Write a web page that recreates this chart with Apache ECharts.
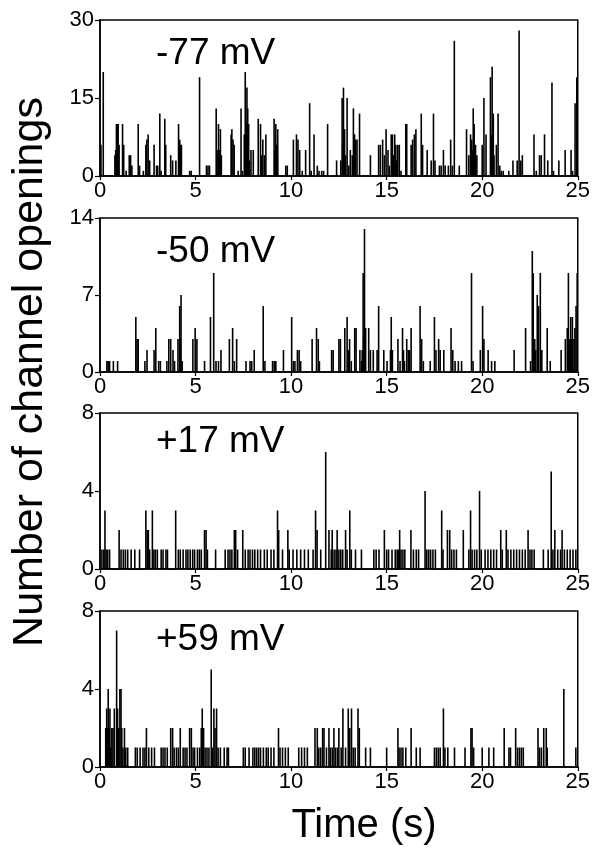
<!DOCTYPE html>
<html><head><meta charset="utf-8">
<script src="https://cdn.jsdelivr.net/npm/echarts@6/dist/echarts.min.js"></script>
<style>html,body{margin:0;padding:0;background:#fff}#c{width:593px;height:850px}</style>
</head><body><div id="c"></div>
<script>
// ---- data (time in s, number of openings) ----
var panelLabels = ['-77 mV', '-50 mV', '+17 mV', '+59 mV'];
var yMax = [30, 14, 8, 8];
var yStep = [15, 7, 4, 4];
var xTicks = [0, 5, 10, 15, 20, 25];

var p77 = [[0.05,6],[0.17,20],[0.78,4],[0.82,5],[0.86,10],[0.9,10],[0.95,10],[1.0,6],[1.18,10],[1.24,6],[1.37,1],[1.53,4],[1.6,4],[1.67,2],[2.0,10],[2.07,2],[2.27,1],[2.4,6],[2.45,7],[2.52,8],[2.6,3],[2.83,6],[2.96,2],[3.02,2],[3.13,12],[3.2,1],[3.39,11],[3.44,6],[3.7,4],[3.8,3],[3.97,3],[4.11,10],[4.17,7],[4.22,6],[4.26,6],[4.69,1],[4.77,1],[5.21,19],[5.57,2],[5.65,2],[5.73,2],[6.08,13],[6.13,5],[6.2,10],[6.25,5],[6.3,9],[6.35,4],[6.86,8],[6.9,9],[6.96,7],[7.02,6],[7.23,1],[7.38,13],[7.45,1],[7.55,8],[7.6,20],[7.62,6],[7.65,10],[7.69,17],[7.73,13],[7.78,10],[7.82,3],[7.9,5],[8.02,5],[8.28,11],[8.4,10],[8.45,4],[8.52,7],[8.6,4],[8.68,8],[9.11,11],[9.15,5],[9.2,10],[9.25,6],[9.28,4],[9.3,9],[9.72,2],[9.8,2],[10.12,7],[10.28,8],[10.36,7],[10.45,5],[10.58,1],[10.76,5],[10.97,14],[11.05,1],[11.2,8],[11.37,2],[11.46,1],[11.6,1],[11.7,1],[11.91,10],[12.38,3],[12.6,3],[12.67,15],[12.7,6],[12.74,17],[12.8,9],[12.85,4],[12.93,15],[13.02,2],[13.1,5],[13.2,4],[13.26,13],[13.32,8],[13.35,3],[13.38,7],[13.45,7],[13.58,12],[14.15,4],[14.58,6],[14.67,6],[14.79,7],[14.88,4],[14.97,9],[15.07,5],[15.14,2],[15.24,8],[15.3,8],[15.35,4],[15.42,8],[15.48,6],[15.52,3],[15.58,6],[15.66,6],[15.75,1],[16.0,10],[16.05,10],[16.28,6],[16.36,7],[16.45,8],[16.53,9],[16.81,12],[16.88,6],[17.12,5],[17.33,3],[17.45,12],[17.53,3],[17.76,2],[17.85,2],[17.97,5],[18.06,2],[18.23,2],[18.35,7],[18.44,2],[18.54,26],[18.8,2],[19.18,9],[19.3,4],[19.39,8],[19.45,7],[19.48,5],[19.53,13],[19.58,10],[19.6,4],[19.65,6],[19.72,4],[20.0,6],[20.09,15],[20.2,8],[20.43,19],[20.47,8],[20.52,21],[20.55,6],[20.58,12],[20.62,4],[20.74,6],[20.83,12],[20.92,2],[21.0,1],[21.1,1],[21.39,1],[21.61,3],[21.83,3],[21.93,28],[22.02,3],[22.1,4],[22.71,8],[22.83,1],[23.0,4],[23.09,4],[23.26,8],[23.43,3],[23.65,18],[23.73,1],[24.01,3],[24.34,5],[24.65,5],[24.73,1],[24.86,14],[24.95,19]];

var p50 = [[0.36,1],[0.43,1],[0.5,1],[0.7,1],[0.92,1],[1.875,5],[1.94,3],[2.0,3],[2.35,1],[2.46,2],[2.83,2],[2.92,4],[3.07,1],[3.16,1],[3.5,1],[3.6,3],[3.7,3],[3.82,2],[3.9,1],[4.08,3],[4.17,6],[4.2,3],[4.24,7],[4.3,1],[4.86,3],[4.98,4],[5.07,3],[5.47,1],[5.78,5],[5.95,9],[6.07,1],[6.2,1],[6.33,2],[6.77,3],[6.94,4],[7.03,1],[7.15,3],[7.64,1],[7.85,1],[7.94,1],[8.07,2],[8.54,6],[8.63,1],[9.03,1],[9.12,1],[9.2,1],[9.6,2],[10.03,5],[10.12,1],[10.2,1],[10.33,2],[10.42,2],[10.5,1],[11.1,3],[11.33,4],[11.42,3],[11.48,1],[12.12,2],[12.2,2],[12.5,3],[12.58,3],[12.81,4],[12.93,5],[13.0,2],[13.06,3],[13.15,1],[13.33,4],[13.4,4],[13.6,2],[13.68,1],[13.72,2],[13.77,9],[13.8,3],[13.84,13],[13.9,4],[14.06,4],[14.15,2],[14.3,2],[14.5,2],[14.58,6],[14.85,2],[15.02,1],[15.2,2],[15.24,5],[15.3,2],[15.59,3],[15.7,1],[15.83,4],[15.88,2],[15.93,1],[16.05,3],[16.13,2],[16.2,2],[16.28,4],[16.75,6],[16.83,3],[16.92,1],[17.28,1],[17.5,5],[17.58,2],[17.72,3],[17.8,2],[17.99,2],[18.37,4],[18.46,2],[18.58,1],[18.75,1],[18.92,1],[19.44,9],[19.52,1],[19.9,2],[20.02,6],[20.09,3],[20.31,2],[20.49,1],[20.66,1],[21.67,2],[22.27,4],[22.53,1],[22.62,11],[22.67,9],[22.7,3],[22.75,3],[22.8,2],[22.88,7],[22.95,6],[23.04,9],[23.12,2],[23.4,4],[23.56,1],[24.13,2],[24.35,3],[24.45,4],[24.51,9],[24.56,3],[24.6,3],[24.63,5],[24.68,3],[24.72,5],[24.8,3],[24.85,4],[24.91,6],[24.97,9]];

var p17 = [[0.1,1],[0.2,1],[0.26,3],[0.32,1],[0.4,1],[0.5,1],[1.0,2],[1.1,1],[1.22,1],[1.33,1],[1.45,1],[1.63,1],[1.82,1],[2.07,1],[2.4,3],[2.47,2],[2.53,2],[2.6,1],[2.74,3],[2.82,1],[2.9,1],[3.0,1],[3.2,1],[3.3,1],[3.45,1],[3.53,1],[3.96,3],[4.1,1],[4.2,1],[4.35,1],[4.5,1],[4.6,1],[4.72,1],[4.85,1],[4.95,1],[5.1,1],[5.2,1],[5.3,1],[5.47,2],[5.55,2],[5.62,1],[6.05,1],[6.55,1],[6.7,1],[6.8,1],[6.9,1],[7.03,2],[7.1,2],[7.2,1],[7.47,2],[7.6,1],[7.75,1],[7.85,1],[7.98,1],[8.1,1],[8.25,1],[8.4,1],[8.6,1],[8.75,1],[8.95,1],[9.1,1],[9.29,3],[9.35,2],[9.55,1],[9.83,2],[9.9,1],[10.1,1],[10.3,1],[10.5,1],[10.7,1],[10.9,1],[11.15,1],[11.28,3],[11.36,2],[11.55,1],[11.81,6],[11.98,2],[12.1,1],[12.15,2],[12.25,1],[12.35,1],[12.41,2],[12.5,1],[12.6,1],[12.7,1],[12.85,2],[12.93,1],[13.07,3],[13.15,1],[13.37,1],[13.68,1],[14.33,1],[14.45,1],[14.6,1],[14.88,2],[15.0,1],[15.1,1],[15.28,1],[15.45,1],[15.55,1],[15.62,1],[15.68,2],[15.75,1],[15.85,1],[15.95,1],[16.27,2],[16.4,1],[16.55,1],[16.67,1],[17.01,4],[17.1,1],[17.2,1],[17.3,1],[17.42,1],[17.55,1],[17.88,3],[17.95,1],[18.18,2],[18.3,2],[18.4,1],[18.52,1],[18.65,1],[19.01,2],[19.3,1],[19.39,3],[19.47,1],[19.6,1],[19.72,1],[19.86,4],[19.95,1],[20.15,1],[20.3,1],[20.45,1],[20.6,1],[20.75,1],[20.97,2],[21.05,1],[21.26,2],[21.35,1],[21.5,1],[21.65,1],[21.8,1],[21.95,1],[22.1,1],[22.25,1],[22.4,2],[22.5,1],[22.6,1],[22.72,1],[23.2,1],[23.45,1],[23.61,5],[23.7,1],[23.8,2],[23.95,1],[24.1,1],[24.18,2],[24.3,1],[24.45,1],[24.6,1],[24.75,1],[24.9,1]];

var p59 = [[0.3,2],[0.35,3],[0.4,2],[0.43,4],[0.48,2],[0.52,3],[0.56,1],[0.62,2],[0.68,2],[0.75,3],[0.87,7],[0.92,3],[0.98,2],[1.04,4],[1.1,4],[1.14,2],[1.2,1],[1.28,2],[1.35,1],[1.45,1],[1.85,1],[1.95,1],[2.1,1],[2.25,1],[2.35,1],[2.43,2],[2.55,1],[2.7,1],[2.85,1],[3.2,1],[3.3,1],[3.4,1],[3.52,1],[3.7,2],[3.8,2],[3.88,1],[4.0,1],[4.1,1],[4.2,2],[4.35,1],[4.45,1],[4.55,1],[4.69,2],[4.78,2],[4.87,1],[4.95,1],[5.1,1],[5.22,1],[5.3,2],[5.35,3],[5.42,2],[5.5,1],[5.6,1],[5.7,1],[5.82,5],[5.88,1],[5.96,3],[6.02,2],[6.1,3],[6.18,1],[6.3,1],[6.5,1],[6.65,1],[6.72,1],[7.5,1],[7.6,1],[7.8,1],[8.0,1],[8.1,1],[8.2,1],[8.3,1],[8.4,1],[8.55,1],[8.7,1],[8.8,1],[8.95,1],[9.1,1],[9.34,2],[9.42,1],[9.55,1],[9.7,1],[9.85,1],[10.4,1],[10.55,1],[10.7,1],[10.85,1],[11.25,2],[11.37,2],[11.45,1],[11.55,1],[11.65,2],[11.72,2],[11.85,1],[11.98,2],[12.05,1],[12.15,1],[12.24,2],[12.32,1],[12.42,1],[12.5,2],[12.62,1],[12.71,3],[12.85,1],[12.99,3],[13.07,2],[13.16,3],[13.25,1],[13.35,1],[13.5,3],[13.57,2],[13.9,1],[14.15,1],[15.0,1],[15.59,2],[15.65,1],[15.75,1],[15.85,1],[16.0,1],[16.28,2],[16.55,1],[16.75,1],[17.5,1],[17.6,1],[17.7,1],[17.8,1],[17.97,3],[18.05,1],[18.2,1],[18.55,1],[19.1,1],[19.41,2],[19.47,2],[19.55,1],[20.0,1],[20.35,1],[20.6,1],[21.15,2],[21.4,1],[21.48,1],[21.75,2],[21.85,1],[21.95,1],[22.05,1],[22.15,1],[22.92,2],[23.0,1],[23.1,1],[23.22,2],[23.35,2],[23.4,1],[24.27,4],[24.9,1]];

var panels = [p77, p50, p17, p59];
var yTitle = 'Number of channel openings';
var xTitle = 'Time (s)';

// ---- layout ----
var FONT = '"Liberation Sans", Arial, Helvetica, sans-serif';
var gridTops = [20, 218, 413, 611];
var gridHeights = [156, 154, 156, 156];
var labelBase = [65, 263, 453, 651];

var grids = [], xAxes = [], yAxes = [], series = [], graphics = [];
for (var i = 0; i < 4; i++) {
  grids.push({left: 100, width: 480, top: gridTops[i], height: gridHeights[i],
    show: true, borderColor: '#000', borderWidth: 1.5, backgroundColor: 'transparent'});
  xAxes.push({type: 'value', gridIndex: i, min: 0, max: 25, interval: 5,
    axisLine: {show: true, onZero: false, lineStyle: {color: '#000', width: 1.5}},
    axisTick: {show: true, length: 4, lineStyle: {color: '#000', width: 1.2}},
    axisLabel: {color: '#000', fontSize: 22, fontFamily: FONT, margin: 4,
      formatter: function (v) { return xTicks.indexOf(v) >= 0 ? String(v) : ''; }},
    splitLine: {show: false}});
  yAxes.push({type: 'value', gridIndex: i, min: 0, max: yMax[i], interval: yStep[i],
    axisLine: {show: true, lineStyle: {color: '#000', width: 1.5}},
    axisTick: {show: true, length: 5, lineStyle: {color: '#000', width: 1.2}},
    axisLabel: {color: '#000', fontSize: 22, fontFamily: FONT, margin: 6},
    splitLine: {show: false}});
  series.push({type: 'bar', xAxisIndex: i, yAxisIndex: i, data: panels[i],
    barWidth: 1.6, barGap: '-100%', itemStyle: {color: '#000'}, silent: true});
  graphics.push({type: 'text', left: 156, top: labelBase[i] - 30,
    style: {text: panelLabels[i], font: '37px ' + FONT, fill: '#000'}});
}
graphics.push({type: 'text', x: 30, y: 372, rotation: Math.PI / 2,
  style: {text: yTitle, font: '43px ' + FONT, fill: '#000', textAlign: 'center', textVerticalAlign: 'middle'}});
graphics.push({type: 'text', x: 364, y: 826,
  style: {text: xTitle, font: '40px ' + FONT, fill: '#000', textAlign: 'center', textVerticalAlign: 'middle'}});

var chart = echarts.init(document.getElementById('c'), null, {renderer: 'canvas'});
chart.setOption({animation: false, backgroundColor: '#fff', grid: grids, xAxis: xAxes, yAxis: yAxes, series: series, graphic: graphics});
</script></body></html>
